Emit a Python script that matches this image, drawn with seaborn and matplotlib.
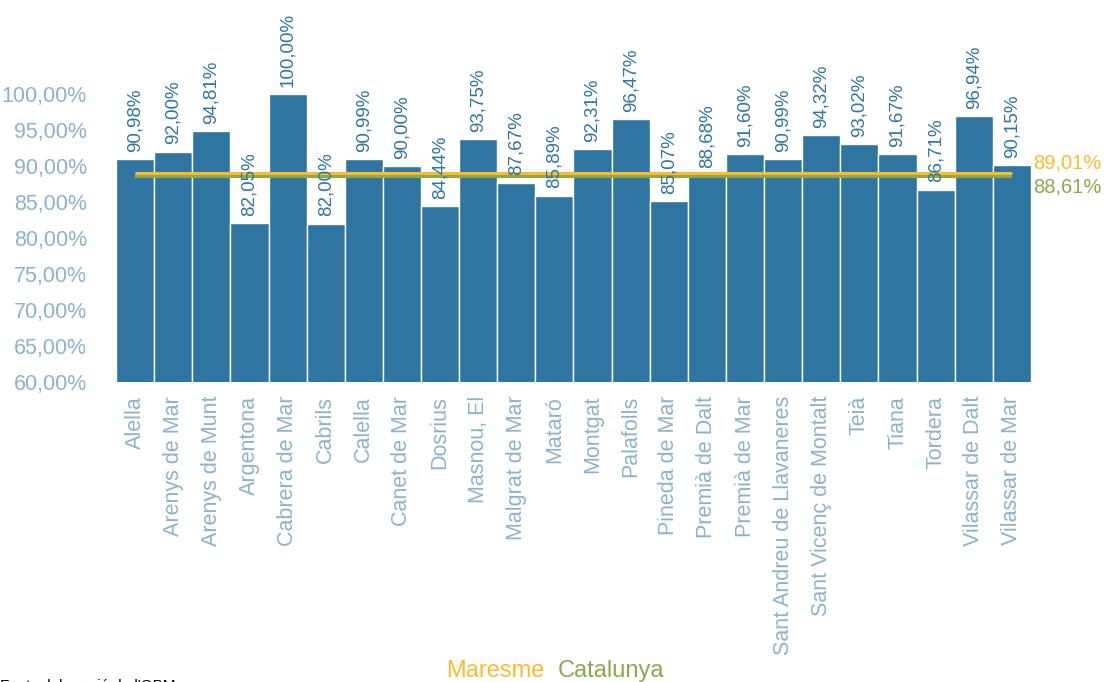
import matplotlib
matplotlib.use("Agg")
import matplotlib.pyplot as plt
import seaborn as sns
import pandas as pd

municipis = ["Alella", "Arenys de Mar", "Arenys de Munt", "Argentona", "Cabrera de Mar",
             "Cabrils", "Calella", "Canet de Mar", "Dosrius", "Masnou, El",
             "Malgrat de Mar", "Mataró", "Montgat", "Palafolls", "Pineda de Mar",
             "Premià de Dalt", "Premià de Mar", "Sant Andreu de Llavaneres",
             "Sant Vicenç de Montalt", "Teià", "Tiana", "Tordera",
             "Vilassar de Dalt", "Vilassar de Mar"]
valors = [90.98, 92.00, 94.81, 82.05, 100.00, 82.00, 90.99, 90.00, 84.44, 93.75,
          87.67, 85.89, 92.31, 96.47, 85.07, 88.68, 91.60, 90.99, 94.32, 93.02,
          91.67, 86.71, 96.94, 90.15]
maresme = 89.01
catalunya = 88.61

bar_col = "#2e76a1"
tick_col = "#8db3ca"
mar_col = "#fbbb2d"
cat_col = "#8ea84b"

def pct(v):
    return f"{v:.2f}".replace(".", ",") + "%"

sns.set_style("white")
plt.rcParams["font.family"] = ["Liberation Sans Narrow", "Liberation Sans", "DejaVu Sans"]

df = pd.DataFrame({"municipi": municipis, "valor": valors})

fig = plt.figure(figsize=(11.05, 6.82), dpi=100)
ax = fig.add_axes([0.105, 0.44, 0.828, 0.549])

sns.barplot(data=df, x="municipi", y="valor", color=bar_col, saturation=1,
            width=1.0, edgecolor="white", linewidth=1, ax=ax)
ax.set_ylim(60, 112)
ax.set_xlim(-0.5, len(municipis) - 0.5)
ax.set_yticks(range(60, 101, 5))
ax.set_yticklabels([pct(t) for t in range(60, 101, 5)])
ax.set_xlabel("")
ax.set_ylabel("")
ax.tick_params(axis="y", labelsize=15.5, labelcolor=tick_col, length=0, pad=21)
ax.tick_params(axis="x", labelsize=15.5, labelcolor=tick_col, length=0, rotation=90, pad=10)
sns.despine(ax=ax, left=True, bottom=True)

# etiquetes de valor sobre cada barra
for i, v in enumerate(valors):
    ax.text(i, v + 1.0, pct(v), rotation=90, ha="center", va="bottom",
            fontsize=13.5, color=bar_col)

n = len(municipis) - 1
ax.plot([0, n], [catalunya, catalunya], color=cat_col, lw=3, solid_capstyle="butt")
ax.plot([0, n], [maresme, maresme], color=mar_col, lw=2.2, solid_capstyle="butt")
ax.text(n + 0.55, maresme + 0.1, pct(maresme), color=mar_col, fontsize=14.5, va="bottom", ha="left")
ax.text(n + 0.55, catalunya - 0.2, pct(catalunya), color=cat_col, fontsize=14.5, va="top", ha="left")

fig.text(0.493, 0.0, "Maresme", color=mar_col, fontsize=17, ha="right", va="bottom")
fig.text(0.505, 0.0, "Catalunya", color=cat_col, fontsize=17, ha="left", va="bottom")
fig.text(0.0, -0.016, "Font: elaboració de l'OBM", color="black", fontsize=11, ha="left", va="bottom")

fig.savefig("out.png", dpi=100)
